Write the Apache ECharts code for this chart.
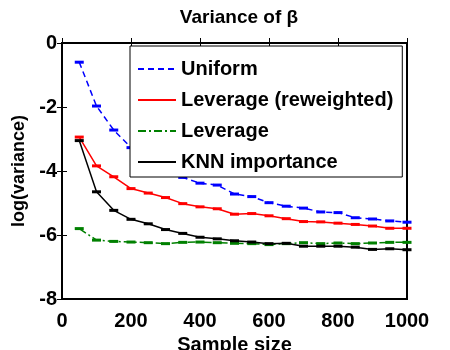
<!DOCTYPE html>
<html>
<head>
<meta charset="utf-8">
<script src="https://cdn.jsdelivr.net/npm/echarts@6/dist/echarts.min.js"></script>
<style>
  html, body { margin: 0; padding: 0; background: #fff; }
  #container { width: 450px; height: 350px; }
</style>
</head>
<body>
<div id="container"></div>
<script>
var sampleSizes = [50, 100, 150, 200, 250, 300, 350, 400, 450, 500, 550, 600, 650, 700, 750, 800, 850, 900, 950, 1000];
var uniform = [-0.6, -1.97, -2.72, -3.27, -3.65, -3.95, -4.2, -4.38, -4.44, -4.72, -4.8, -4.99, -5.1, -5.16, -5.28, -5.3, -5.46, -5.5, -5.56, -5.6];
var leverageRw = [-2.94, -3.84, -4.18, -4.55, -4.69, -4.83, -5.02, -5.12, -5.18, -5.35, -5.33, -5.4, -5.49, -5.58, -5.59, -5.63, -5.67, -5.72, -5.79, -5.79];
var leverage = [-5.8, -6.16, -6.2, -6.22, -6.24, -6.27, -6.23, -6.22, -6.24, -6.26, -6.27, -6.3, -6.27, -6.24, -6.27, -6.25, -6.27, -6.25, -6.23, -6.23];
var knn = [-3.05, -4.65, -5.23, -5.51, -5.65, -5.83, -5.95, -6.07, -6.12, -6.18, -6.22, -6.27, -6.26, -6.35, -6.35, -6.35, -6.38, -6.45, -6.43, -6.46];

var font = 'Liberation Sans, Arial, sans-serif';

function pairs(ys) {
  return sampleSizes.map(function (x, i) { return [x, ys[i]]; });
}

function makeSeries(name, ys, color, type) {
  return {
    name: name,
    type: 'line',
    data: pairs(ys),
    symbol: 'rect',
    symbolSize: [9, 3],
    showSymbol: true,
    color: color,
    itemStyle: { color: color },
    lineStyle: { color: color, width: 1.5, type: type },
    animation: false
  };
}

var dom = document.getElementById('container');
var myChart = echarts.init(dom, null, { renderer: 'canvas' });

var option = {
  backgroundColor: '#fff',
  title: {
    text: 'Variance of β',
    left: 234,
    textAlign: 'center',
    top: 3,
    textStyle: { fontFamily: font, fontWeight: 'bold', fontSize: 19, color: '#000' }
  },
  legend: {
    orient: 'vertical',
    left: 130,
    top: 46,
    padding: [13, 9, 5, 7],
    itemGap: 11,
    itemWidth: 38,
    itemHeight: 20,
    backgroundColor: '#fff',
    borderColor: '#000',
    borderWidth: 1,
    borderRadius: 0,
    itemStyle: { opacity: 0 },
    textStyle: { fontFamily: font, fontWeight: 'bold', fontSize: 20, color: '#000' },
    data: ['Uniform', 'Leverage (reweighted)', 'Leverage', 'KNN importance']
  },
  grid: {
    left: 62, right: 43, top: 43, bottom: 51,
    containLabel: false,
    outerBoundsMode: 'none',
    show: true, borderColor: '#000', borderWidth: 2, backgroundColor: 'transparent'
  },
  xAxis: [{
    type: 'value', min: 0, max: 1000, interval: 200,
    name: 'Sample size', nameLocation: 'middle', nameGap: 32,
    nameTextStyle: { fontFamily: font, fontWeight: 'bold', fontSize: 20, color: '#000' },
    axisLine: { lineStyle: { color: '#000', width: 2 } },
    axisTick: { inside: true, length: 5, lineStyle: { color: '#000' } },
    axisLabel: { fontFamily: font, fontWeight: 'bold', fontSize: 20, color: '#000', margin: 12,
      formatter: function (v) { return String(v); } },
    splitLine: { show: false }
  }, {
    type: 'value', min: 0, max: 1000, interval: 200, position: 'top',
    axisLine: { lineStyle: { color: '#000', width: 2 } },
    axisTick: { inside: true, length: 5, lineStyle: { color: '#000' } },
    axisLabel: { show: false },
    splitLine: { show: false }
  }],
  yAxis: [{
    type: 'value', min: -8, max: 0, interval: 2,
    name: 'log(variance)', nameLocation: 'middle', nameGap: 30,
    nameTextStyle: { fontFamily: font, fontWeight: 'bold', fontSize: 18, color: '#000' },
    axisLine: { lineStyle: { color: '#000', width: 2 } },
    axisTick: { inside: true, length: 5, lineStyle: { color: '#000' } },
    axisLabel: { fontFamily: font, fontWeight: 'bold', fontSize: 20, color: '#000', margin: 5 },
    splitLine: { show: false }
  }, {
    type: 'value', min: -8, max: 0, interval: 2, position: 'right',
    axisLine: { lineStyle: { color: '#000', width: 2 } },
    axisTick: { inside: true, length: 5, lineStyle: { color: '#000' } },
    axisLabel: { show: false },
    splitLine: { show: false }
  }],
  series: [
    makeSeries('Uniform', uniform, '#0000ff', [6, 4]),
    makeSeries('Leverage (reweighted)', leverageRw, '#ff0000', 'solid'),
    makeSeries('Leverage', leverage, '#008000', [8, 3, 2, 3]),
    makeSeries('KNN importance', knn, '#000000', 'solid')
  ]
};

myChart.setOption(option);
window.addEventListener('resize', myChart.resize);
</script>
</body>
</html>
